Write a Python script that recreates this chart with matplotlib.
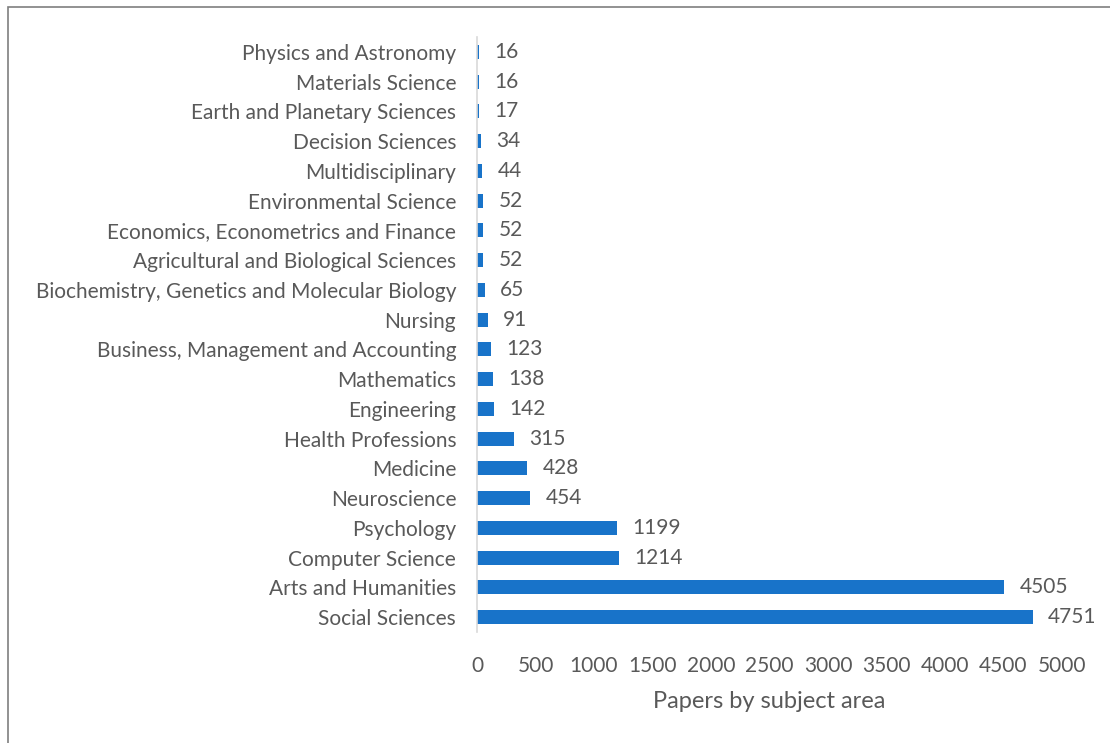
import matplotlib.pyplot as plt
from matplotlib.patches import Rectangle

# subject areas, listed top to bottom as shown
subjects = [
    'Physics and Astronomy', 'Materials Science', 'Earth and Planetary Sciences',
    'Decision Sciences', 'Multidisciplinary', 'Environmental Science',
    'Economics, Econometrics and Finance', 'Agricultural and Biological Sciences',
    'Biochemistry, Genetics and Molecular Biology', 'Nursing',
    'Business, Management and Accounting', 'Mathematics', 'Engineering',
    'Health Professions', 'Medicine', 'Neuroscience', 'Psychology',
    'Computer Science', 'Arts and Humanities', 'Social Sciences',
]
papers = [16, 16, 17, 34, 44, 52, 52, 52, 65, 91, 123, 138, 142, 315, 428, 454,
          1199, 1214, 4505, 4751]
xticks = [0, 500, 1000, 1500, 2000, 2500, 3000, 3500, 4000, 4500, 5000]

text_color = '#595959'
bar_color = '#1873C9'
plt.rcParams['font.family'] = ['Lato', 'DejaVu Sans']

fig = plt.figure(figsize=(11.1, 7.43), dpi=100)
ax = fig.add_axes([477 / 1110, 1 - 632 / 743, (1062 - 477) / 1110, (632 - 37) / 743])

ypos = list(range(len(subjects)))
bars = ax.barh(ypos, papers, height=0.47, color=bar_color)
ax.set_ylim(len(subjects) - 0.5, -0.5)
ax.set_yticks(ypos)
ax.set_yticklabels(subjects, fontsize=15, color=text_color)
ax.set_xlim(0, 5000)
ax.set_xticks(xticks)
ax.set_xticklabels([str(t) for t in xticks], fontsize=15, color=text_color)
ax.tick_params(axis='y', length=0, pad=15)
ax.tick_params(axis='x', length=0, pad=17)
ax.bar_label(bars, labels=[str(p) for p in papers], padding=11, fontsize=15,
             color=text_color)
ax.set_xlabel('Papers by subject area', fontsize=17, color=text_color, labelpad=11)

for side in ['top', 'right', 'bottom']:
    ax.spines[side].set_visible(False)
ax.spines['left'].set_color('#D9D9D9')
ax.spines['left'].set_linewidth(1.2)

# chart border
fig.patches.append(Rectangle((8 / 1110, -0.1), 1.2, 1 - 7 / 743 + 0.1,
                             transform=fig.transFigure, fill=False,
                             edgecolor='#7F7F7F', linewidth=1.2))

fig.savefig('out.png', dpi=100)
